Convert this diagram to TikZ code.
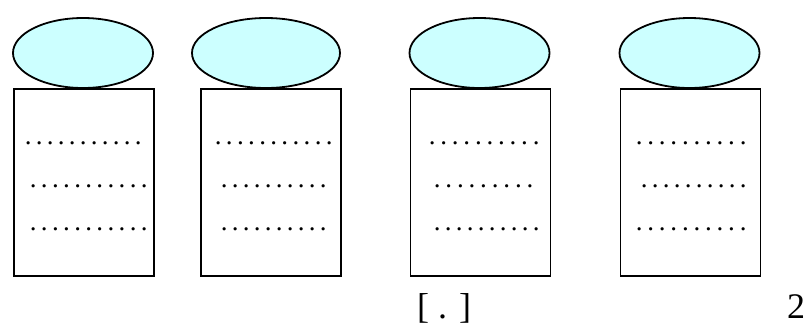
\documentclass[tikz,border=0pt]{standalone}
\usepackage{fontspec}
\setmainfont{Liberation Serif}
\usetikzlibrary{shapes.geometric}
\definecolor{lidfill}{HTML}{CCFFFF}
% a row of n evenly spaced dots, #2 = pitch in pt
\newcommand\dotrow[2]{\foreach \k in {1,...,#1}{\makebox[#2pt]{.}}}
\begin{document}
\begin{tikzpicture}[x=1pt,y=-1pt,
  lidshape/.style={ellipse,draw,line width=1.8pt,fill=lidfill,minimum width=140pt,minimum height=70pt,inner sep=0pt},
  sheet/.style={draw,line width=1.5pt,minimum width=140pt,minimum height=187pt,inner sep=0pt},
  dotline/.style={anchor=base west,inner sep=0pt,font=\fontsize{27pt}{27pt}\selectfont},
  bottomtext/.style={anchor=base west,inner sep=0pt,font=\fontsize{36pt}{36pt}\selectfont}]
\useasboundingbox (0,0) rectangle (811,327);
% the four cylinders: a lid above each sheet
\node[lidshape] (e1) at (83,53) {};
\node[sheet,anchor=north west] (r1) at (13,88) {};
\node[lidshape,minimum width=148pt] (e2) at (266,53) {};
\node[sheet,anchor=north west] (r2) at (200,88) {};
\node[lidshape] (e3) at (479.5,53) {};
\node[sheet,anchor=north west] (r3) at (409.5,88) {};
\node[lidshape] (e4) at (689.5,53) {};
\node[sheet,anchor=north west] (r4) at (619.5,88) {};
% dotted lines inside the sheets
\node[dotline] (d11) at (22.5,144) {\dotrow{11}{11}};
\node[dotline] (d12) at (27.5,187) {\dotrow{11}{11.1}};
\node[dotline] (d13) at (27.5,230) {\dotrow{11}{11.1}};
\node[dotline] (d21) at (212.5,144) {\dotrow{11}{11.1}};
\node[dotline] (d22) at (218.5,187) {\dotrow{10}{11}};
\node[dotline] (d23) at (218.5,230) {\dotrow{10}{11}};
\node[dotline] (d31) at (426.2,144) {\dotrow{10}{11.55}};
\node[dotline] (d32) at (431.2,187) {\dotrow{9}{11.6}};
\node[dotline] (d33) at (431.5,230) {\dotrow{10}{11}};
\node[dotline] (d41) at (633.2,144) {\dotrow{10}{11.55}};
\node[dotline] (d42) at (638.5,187) {\dotrow{10}{11}};
\node[dotline] (d43) at (633.2,230) {\dotrow{10}{11.55}};
% bottom labels
\node[bottomtext] (t1) at (417,318) {[ . ]};
\node[bottomtext] (t2) at (787,318) {2};
\end{tikzpicture}
\end{document}
